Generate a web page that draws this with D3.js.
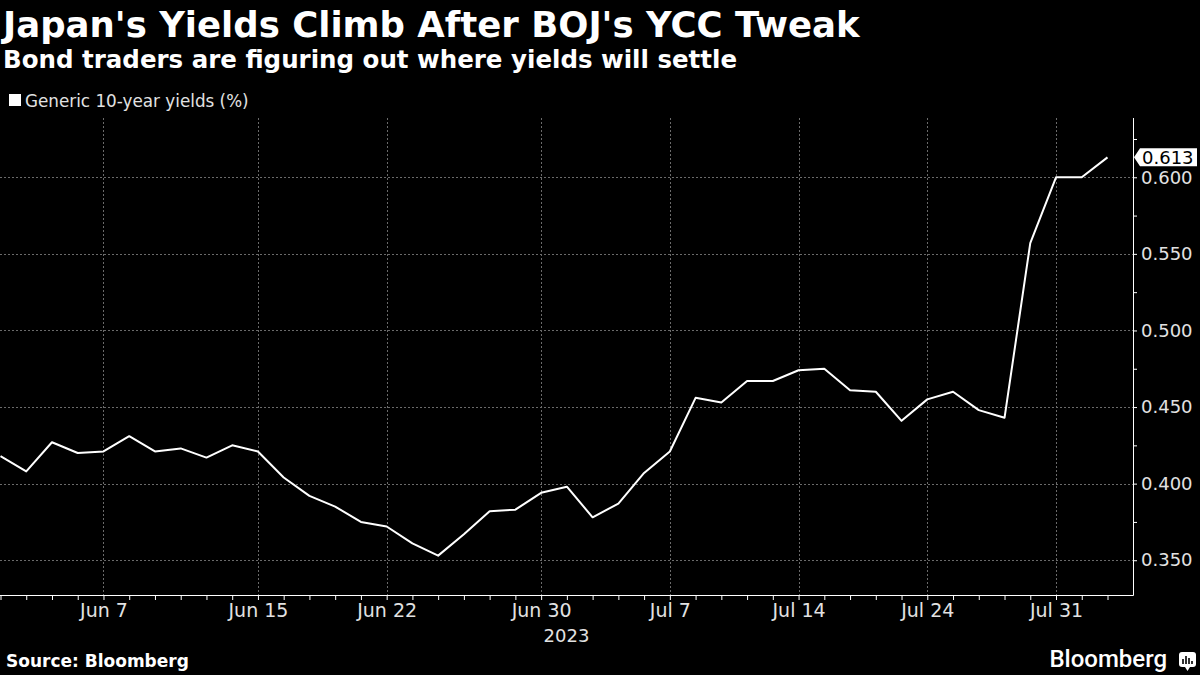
<!DOCTYPE html>
<html>
<head>
<meta charset="utf-8">
<script src="https://cdn.jsdelivr.net/npm/d3@7"></script>
<style>
  html, body { margin: 0; padding: 0; background: #000; }
  svg { display: block; }
  .tick text { fill: #e2e2e2; font-family: "DejaVu Sans", sans-serif; font-size: 18px; }
  .x.axis .tick text { font-size: 19px; }
  .tick line { stroke: #fff; }
</style>
</head>
<body>
<div id="chart"></div>
<script>
// Trading days (Tokyo), Jun 1 - Aug 2 2023
const dates = [
  "2023-06-01", "2023-06-02", "2023-06-05", "2023-06-06", "2023-06-07", "2023-06-08", "2023-06-09",
  "2023-06-12", "2023-06-13", "2023-06-14", "2023-06-15", "2023-06-16", "2023-06-19", "2023-06-20",
  "2023-06-21", "2023-06-22", "2023-06-23", "2023-06-26", "2023-06-27", "2023-06-28", "2023-06-29",
  "2023-06-30", "2023-07-03", "2023-07-04", "2023-07-05", "2023-07-06", "2023-07-07", "2023-07-10",
  "2023-07-11", "2023-07-12", "2023-07-13", "2023-07-14", "2023-07-18", "2023-07-19", "2023-07-20",
  "2023-07-21", "2023-07-24", "2023-07-25", "2023-07-26", "2023-07-27", "2023-07-28", "2023-07-31",
  "2023-08-01", "2023-08-02"
]
const yields = [
  0.418, 0.408, 0.427, 0.420, 0.421, 0.431, 0.421,
  0.423, 0.417, 0.425, 0.421, 0.404, 0.392, 0.385,
  0.375, 0.372, 0.361, 0.353, 0.367, 0.382, 0.383,
  0.394, 0.398, 0.378, 0.387, 0.407, 0.421, 0.456,
  0.453, 0.467, 0.467, 0.474, 0.475, 0.461, 0.460,
  0.441, 0.455, 0.460, 0.448, 0.443, 0.557, 0.600,
  0.600, 0.613
]
const labelDates = ["2023-06-07", "2023-06-15", "2023-06-22", "2023-06-30",
                    "2023-07-07", "2023-07-14", "2023-07-24", "2023-07-31"]
const yMajor = [0.35, 0.40, 0.45, 0.50, 0.55, 0.60]
const yMinor = [0.375, 0.425, 0.475, 0.525, 0.575, 0.625]

const W = 1200, H = 675
const plot = {left: 0, right: 1133, top: 118, bottom: 595}

const svg = d3.select("#chart").append("svg")
  .attr("width", W)
  .attr("height", H)
  .style("background", "#000")

// HEADER
svg.append("text")
  .attr("x", 3).attr("y", 37)
  .attr("fill", "#fff")
  .style("font-family", "DejaVu Sans, sans-serif")
  .style("font-weight", "bold")
  .style("font-size", "35.5px")
  .text("Japan's Yields Climb After BOJ's YCC Tweak")

svg.append("text")
  .attr("x", 3).attr("y", 68)
  .attr("fill", "#fff")
  .style("font-family", "DejaVu Sans, sans-serif")
  .style("font-weight", "bold")
  .style("font-size", "24.5px")
  .text("Bond traders are figuring out where yields will settle")

// legend
svg.append("rect")
  .attr("x", 9).attr("y", 94)
  .attr("width", 12).attr("height", 12)
  .attr("fill", "#fff")
svg.append("text")
  .attr("x", 25).attr("y", 107)
  .attr("fill", "#e2e2e2")
  .style("font-family", "DejaVu Sans, sans-serif")
  .style("font-size", "16.8px")
  .text("Generic 10-year yields (%)")

// SCALES
const x = d3.scalePoint()
  .domain(dates)
  .range([0.5, 1107.5])

const y = d3.scaleLinear()
  .domain([0.3273, 0.6387])
  .range([plot.bottom, plot.top])

// GRID
const grid = svg.append("g")
  .attr("stroke", "#6a6a6a")
  .attr("stroke-width", 1)
  .attr("stroke-dasharray", "2,2")

grid.selectAll(".hgrid")
  .data(yMajor)
  .join("line")
  .attr("class", "hgrid")
  .attr("x1", plot.left).attr("x2", plot.right)
  .attr("y1", d => Math.round(y(d)) + 0.5)
  .attr("y2", d => Math.round(y(d)) + 0.5)

grid.selectAll(".vgrid")
  .data(labelDates)
  .join("line")
  .attr("class", "vgrid")
  .attr("x1", d => Math.round(x(d)) + 0.5)
  .attr("x2", d => Math.round(x(d)) + 0.5)
  .attr("y1", plot.top).attr("y2", plot.bottom)

// AXES
const fmtDay = d3.timeFormat("%b %-d")
const xAxis = d3.axisBottom(x)
  .tickValues(dates)
  .tickSize(5)
  .tickPadding(4)
  .tickSizeOuter(0)
  .tickFormat(d => labelDates.includes(d) ? fmtDay(d3.timeParse("%Y-%m-%d")(d)) : "")

const gx = svg.append("g")
  .attr("class", "x axis")
  .attr("transform", "translate(0," + plot.bottom + ")")
  .call(xAxis)
gx.select(".domain").remove()

gx.append("text")
  .attr("x", (plot.left + plot.right) / 2)
  .attr("y", 47)
  .attr("fill", "#e2e2e2")
  .attr("text-anchor", "middle")
  .style("font-family", "DejaVu Sans, sans-serif")
  .style("font-size", "18px")
  .text("2023")

const yAxis = d3.axisRight(y)
  .tickValues(yMajor.concat(yMinor))
  .tickSize(4)
  .tickPadding(4)
  .tickSizeOuter(0)
  .tickFormat(d => yMajor.includes(d) ? d3.format(".3f")(d) : "")

const gy = svg.append("g")
  .attr("class", "y axis")
  .attr("transform", "translate(" + plot.right + ",0)")
  .call(yAxis)
gy.select(".domain").remove()

// axis lines
svg.append("line")
  .attr("x1", plot.left).attr("x2", plot.right + 0.5)
  .attr("y1", plot.bottom + 0.5).attr("y2", plot.bottom + 0.5)
  .attr("stroke", "#fff")
svg.append("line")
  .attr("x1", plot.right + 0.5).attr("x2", plot.right + 0.5)
  .attr("y1", plot.top).attr("y2", plot.bottom + 0.5)
  .attr("stroke", "#fff")

// LINE
const line = d3.line()
  .x((d, i) => x(dates[i]))
  .y(d => y(d))

svg.append("path")
  .datum(yields)
  .attr("fill", "none")
  .attr("stroke", "#fff")
  .attr("stroke-width", 2)
  .attr("stroke-linejoin", "round")
  .attr("d", line)

// last value tag
const last = yields[yields.length - 1]
const ty = y(last)
const tag = svg.append("g")
  .attr("transform", "translate(" + (plot.right + 1) + "," + ty + ")")
tag.append("path")
  .attr("d", "M0,0 L6,-9 L63,-9 L63,9 L6,9 Z")
  .attr("fill", "#fff")
tag.append("text")
  .attr("x", 8).attr("y", 0)
  .attr("dy", "0.36em")
  .attr("fill", "#000")
  .style("font-family", "DejaVu Sans, sans-serif")
  .style("font-size", "18px")
  .text(d3.format(".3f")(last))

// FOOTER
svg.append("text")
  .attr("x", 6).attr("y", 667)
  .attr("fill", "#fff")
  .style("font-family", "DejaVu Sans, sans-serif")
  .style("font-weight", "bold")
  .style("font-size", "17px")
  .text("Source: Bloomberg")

svg.append("text")
  .attr("x", 1167).attr("y", 667)
  .attr("fill", "#fff")
  .attr("text-anchor", "end")
  .style("font-family", "Roboto, sans-serif")
  .style("font-weight", "500")
  .style("font-size", "24px")
  .text("Bloomberg")

// logo glyph
const logo = svg.append("g").attr("transform", "translate(1179,652)")
logo.append("rect")
  .attr("width", 17).attr("height", 15).attr("rx", 3)
  .attr("fill", "#fff")
logo.append("path")
  .attr("d", "M6,15 L8.5,19 L11,15 Z")
  .attr("fill", "#fff")
logo.selectAll(".bar")
  .data([[4, 7], [7, 4], [10, 6], [13, 9]])
  .join("rect")
  .attr("class", "bar")
  .attr("x", d => d[0] - 0.8)
  .attr("y", d => d[1])
  .attr("width", 1.6)
  .attr("height", d => 12 - d[1])
  .attr("fill", "#000")
</script>
</body>
</html>
